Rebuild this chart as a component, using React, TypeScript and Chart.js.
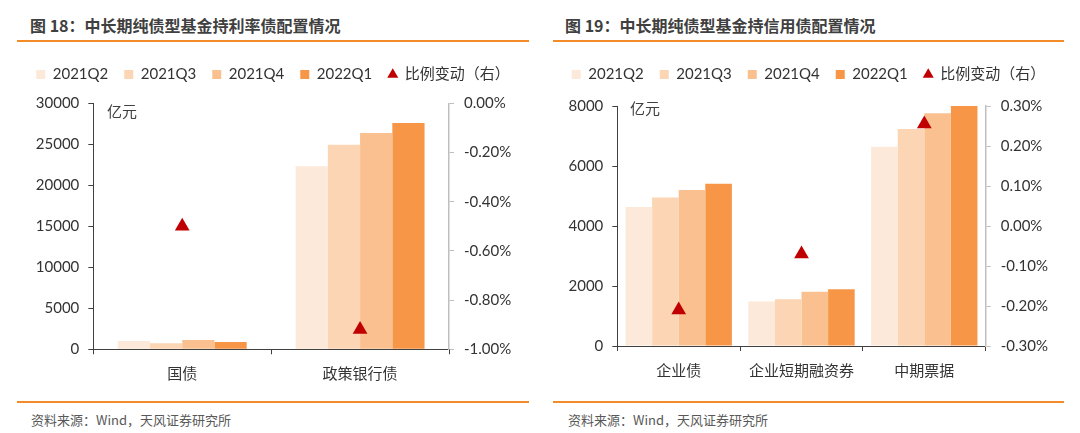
import React, { useEffect, useRef } from 'react';
import { Chart, registerables } from 'chart.js';

Chart.register(...registerables);

// ---- shared series ----
const seriesLabels = ['2021Q2', '2021Q3', '2021Q4', '2022Q1'];
const seriesColors = ['#FDE9D9', '#FCD5B4', '#FAC090', '#F79646'];
const changeLabel = '比例变动（右）';
const changeColor = '#C00000';

// ---- 图18：利率债 ----
const rateTitle = '图 18：中长期纯债型基金持利率债配置情况';
const rateCategories = ['国债', '政策银行债'];
const rateQ2 = [1010, 22320];
const rateQ3 = [730, 24960];
const rateQ4 = [1130, 26380];
const rate22Q1 = [900, 27600];
const rateChange = [-0.5, -0.92];
const rateLeftRange = [0, 30000, 5000];
const rateRightRange = [-1.0, 0.0, 0.2];

// ---- 图19：信用债 ----
const creditTitle = '图 19：中长期纯债型基金持信用债配置情况';
const creditCategories = ['企业债', '企业短期融资券', '中期票据'];
const creditQ2 = [4630, 1480, 6640];
const creditQ3 = [4950, 1560, 7230];
const creditQ4 = [5200, 1810, 7760];
const credit22Q1 = [5410, 1890, 8000];
const creditChange = [-0.21, -0.07, 0.255];
const creditLeftRange = [0, 8000, 2000];
const creditRightRange = [-0.3, 0.3, 0.1];

const unitLabel = '亿元';
const sourceText = '资料来源：Wind，天风证券研究所';

const NUM_FONT = "Lato, 'Noto Sans CJK SC', sans-serif";
const CJK_FONT = "'Noto Sans CJK SC', sans-serif";

type Layout = {
  width: number;
  height: number;
  leftW: number;
  rightW: number;
  bottomH: number;
  spacer: number;
  catPct: number;
};

function buildConfig(
  categories: string[],
  series: number[][],
  change: number[],
  leftRange: number[],
  rightRange: number[],
  L: Layout
): any {
  const datasets: any[] = series.map((vals, i) => ({
    type: 'bar',
    label: seriesLabels[i],
    data: vals,
    backgroundColor: seriesColors[i],
    borderWidth: 0,
    pointStyle: 'rect',
    yAxisID: 'y',
    categoryPercentage: L.catPct,
    barPercentage: 1,
    order: 1,
  }));
  datasets.push({
    type: 'line',
    label: changeLabel,
    data: change,
    yAxisID: 'y1',
    showLine: false,
    pointStyle: 'triangle',
    pointRadius: 8.5,
    pointHoverRadius: 8.5,
    pointBackgroundColor: changeColor,
    pointBorderColor: changeColor,
    pointBorderWidth: 0,
    backgroundColor: changeColor,
    borderColor: changeColor,
    borderWidth: 0,
    order: 0,
  });
  return {
    type: 'bar',
    data: { labels: categories, datasets },
    options: {
      responsive: false,
      animation: false,
      events: [],
      layout: { padding: 0 },
      plugins: {
        tooltip: { enabled: false },
        legend: {
          display: true,
          position: 'top',
          weight: 3000,
          labels: {
            usePointStyle: true,
            boxWidth: 9,
            boxHeight: 9,
            padding: 16,
            color: '#333333',
            font: { family: NUM_FONT, size: 15 },
            sort: (a: any, b: any) => a.datasetIndex - b.datasetIndex,
          },
        },
        title: {
          display: true,
          text: '',
          weight: 500,
          font: { size: 1, lineHeight: 1 },
          padding: { top: L.spacer - 1, bottom: 0 },
        },
      },
      scales: {
        x: {
          type: 'category',
          offset: true,
          grid: {
            display: true,
            offset: true,
            drawOnChartArea: false,
            drawTicks: true,
            tickLength: 5,
            color: '#404040',
          },
          border: { display: true, color: '#404040', width: 1 },
          ticks: {
            color: '#333333',
            padding: 10,
            font: { family: CJK_FONT, size: 15 },
            maxRotation: 0,
          },
          afterFit: (s: any) => {
            s.height = L.bottomH;
          },
        },
        y: {
          type: 'linear',
          position: 'left',
          min: leftRange[0],
          max: leftRange[1],
          grid: {
            display: true,
            drawOnChartArea: false,
            drawTicks: true,
            tickLength: 5,
            color: '#404040',
          },
          border: { display: true, color: '#404040', width: 1 },
          ticks: {
            stepSize: leftRange[2],
            color: '#333333',
            padding: 9,
            font: { family: NUM_FONT, size: 15 },
            callback: (v: any) => String(v),
          },
          afterFit: (s: any) => {
            s.width = L.leftW;
          },
        },
        y1: {
          type: 'linear',
          position: 'right',
          min: rightRange[0],
          max: rightRange[1],
          grid: {
            display: true,
            drawOnChartArea: false,
            drawTicks: true,
            tickLength: 5,
            color: '#BFBFBF',
          },
          border: { display: true, color: '#BFBFBF', width: 1.5 },
          ticks: {
            stepSize: rightRange[2],
            color: '#333333',
            padding: 10,
            font: { family: NUM_FONT, size: 15 },
            callback: (v: any) => {
              const n = Math.abs(v) < 1e-9 ? 0 : v;
              return n.toFixed(2) + '%';
            },
          },
          afterFit: (s: any) => {
            s.width = L.rightW;
          },
        },
      },
    },
  };
}

function ChartCanvas(props: { cfg: () => any; left: number; top: number; width: number; height: number }) {
  const ref = useRef<HTMLCanvasElement | null>(null);
  useEffect(() => {
    if (!ref.current) return;
    const chart = new Chart(ref.current, props.cfg());
    return () => chart.destroy();
  }, []);
  return (
    <canvas
      ref={ref}
      width={props.width}
      height={props.height}
      style={{
        position: 'absolute',
        left: props.left,
        top: props.top,
        width: props.width,
        height: props.height,
      }}
    />
  );
}

const titleStyle: React.CSSProperties = {
  position: 'absolute',
  top: 15,
  fontFamily: CJK_FONT,
  fontSize: 16,
  lineHeight: '20px',
  fontWeight: 700,
  color: '#404040',
  whiteSpace: 'nowrap',
};
const ruleStyle: React.CSSProperties = {
  position: 'absolute',
  height: 2,
  background: '#F28C28',
};
const sourceStyle: React.CSSProperties = {
  position: 'absolute',
  top: 412,
  fontFamily: CJK_FONT,
  fontSize: 13,
  lineHeight: '16px',
  color: '#595959',
  whiteSpace: 'nowrap',
};
const unitStyle: React.CSSProperties = {
  position: 'absolute',
  fontFamily: CJK_FONT,
  fontSize: 15,
  lineHeight: '18px',
  color: '#404040',
  whiteSpace: 'nowrap',
};

// legend: height = 15 + 16 + 10 = 41, text centre at top + 23.5
const leftLayout: Layout = {
  width: 512,
  height: 344,
  leftW: 76.3,
  rightW: 80,
  bottomH: 45.7,
  spacer: 11.3,
  catPct: 0.725,
};
const rightLayout: Layout = {
  width: 511,
  height: 344,
  leftW: 64.3,
  rightW: 78.3,
  bottomH: 49,
  spacer: 14,
  catPct: 0.866,
};

export default function App() {
  return (
    <div
      style={{
        position: 'absolute',
        left: 0,
        top: 0,
        width: 1080,
        height: 433,
        background: '#FFFFFF',
        overflow: 'hidden',
      }}
    >
      <div style={{ ...titleStyle, left: 30 }}>{rateTitle}</div>
      <div style={{ ...titleStyle, left: 565 }}>{creditTitle}</div>
      <div style={{ ...ruleStyle, left: 17, top: 40, width: 512 }} />
      <div style={{ ...ruleStyle, left: 553, top: 40, width: 511 }} />

      <ChartCanvas
        left={17}
        top={51}
        width={leftLayout.width}
        height={leftLayout.height}
        cfg={() =>
          buildConfig(
            rateCategories,
            [rateQ2, rateQ3, rateQ4, rate22Q1],
            rateChange,
            rateLeftRange,
            rateRightRange,
            leftLayout
          )
        }
      />
      <ChartCanvas
        left={553}
        top={51}
        width={rightLayout.width}
        height={rightLayout.height}
        cfg={() =>
          buildConfig(
            creditCategories,
            [creditQ2, creditQ3, creditQ4, credit22Q1],
            creditChange,
            creditLeftRange,
            creditRightRange,
            rightLayout
          )
        }
      />
      <div style={{ ...unitStyle, left: 107, top: 102 }}>{unitLabel}</div>
      <div style={{ ...unitStyle, left: 630, top: 99 }}>{unitLabel}</div>

      <div style={{ ...ruleStyle, left: 17, top: 401, width: 512 }} />
      <div style={{ ...ruleStyle, left: 553, top: 401, width: 511 }} />
      <div style={{ ...sourceStyle, left: 31 }}>{sourceText}</div>
      <div style={{ ...sourceStyle, left: 568 }}>{sourceText}</div>
    </div>
  );
}
